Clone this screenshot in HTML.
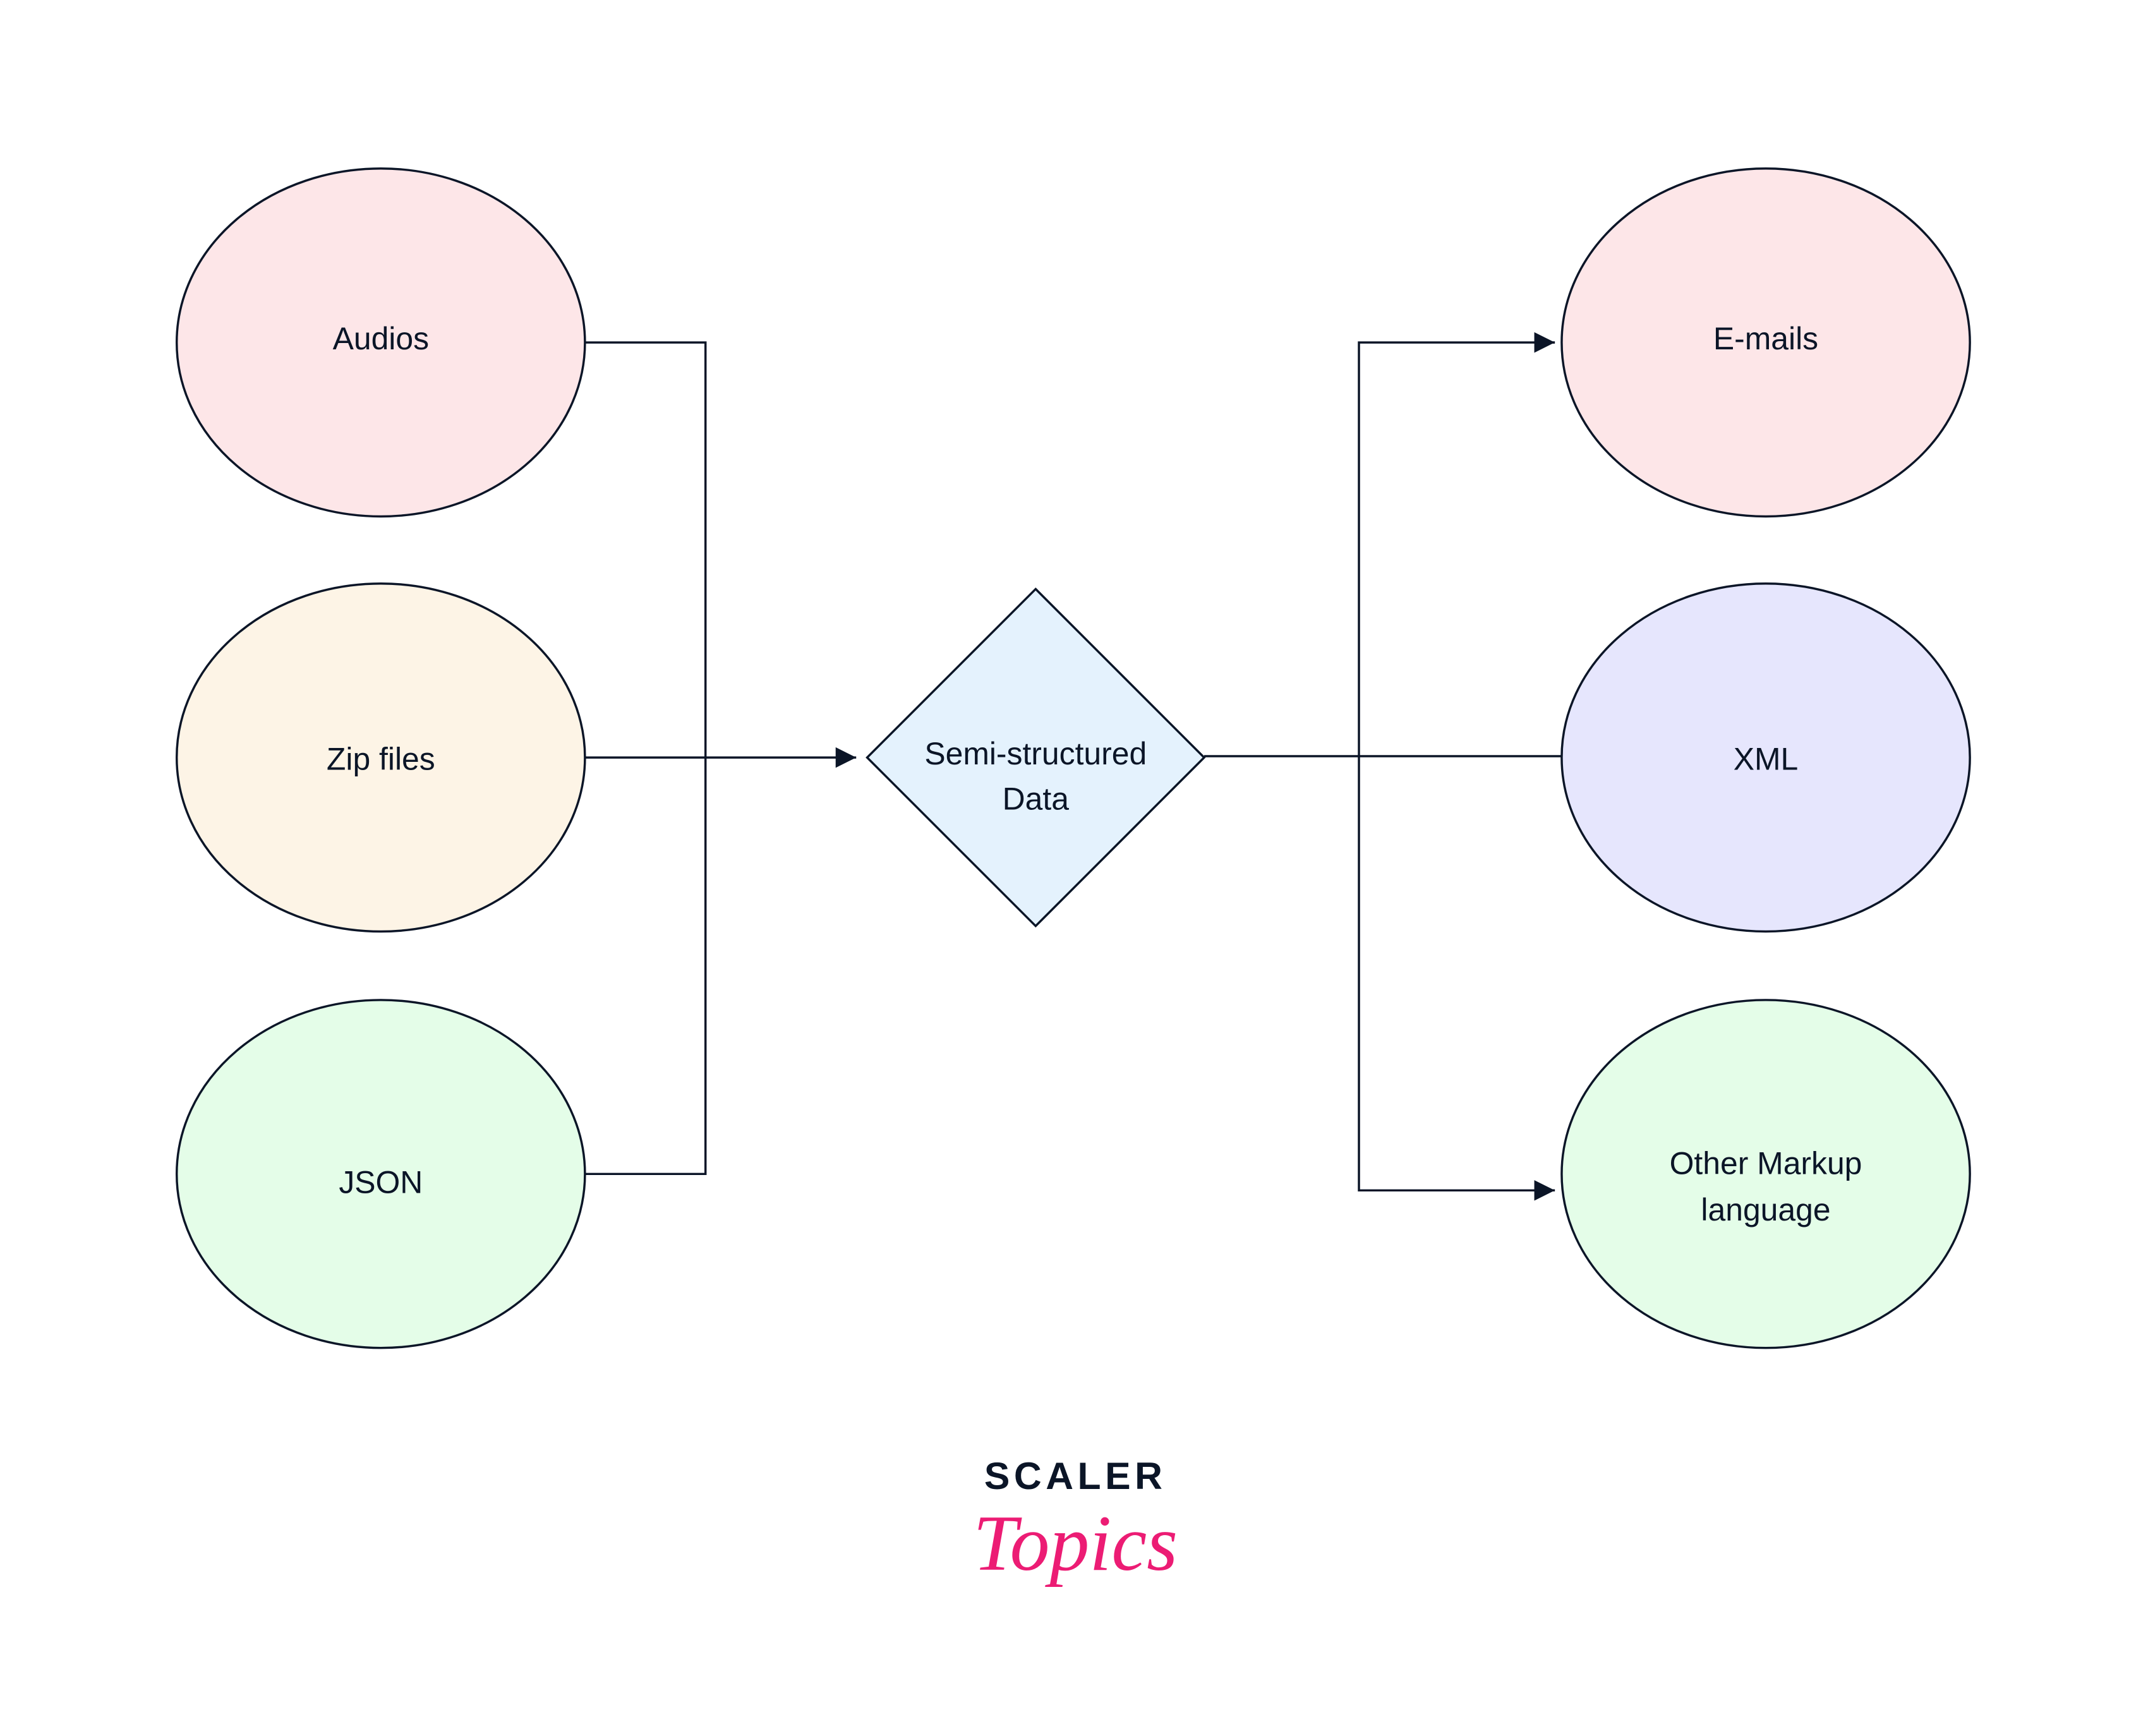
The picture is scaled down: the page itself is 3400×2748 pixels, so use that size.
<!DOCTYPE html>
<html><head><meta charset="utf-8"><style>
html,body{margin:0;padding:0;background:#fff;width:3400px;height:2748px;overflow:hidden}
text{font-family:"Liberation Sans",sans-serif;fill:#0b1527}
</style></head><body>
<svg width="3400" height="2748" viewBox="0 0 1568 1267.3" xmlns="http://www.w3.org/2000/svg">
<defs><marker id="a" viewBox="0 0 10 10" refX="10" refY="5" markerWidth="7" markerHeight="7" markerUnits="userSpaceOnUse" orient="auto"><path d="M0,0L10,5L0,10z" fill="#0b1527"/></marker>
<marker id="b" viewBox="0 0 10 10" refX="10" refY="5" markerWidth="15" markerHeight="15" markerUnits="userSpaceOnUse" orient="auto"><path d="M0,0L10,5L0,10z" fill="#0b1527"/></marker></defs>
<g stroke="#0b1527" stroke-width="1.6" fill="none">
<path d="M427,250H515V857H427"/>
<path d="M427,553H625" marker-end="url(#b)"/>
<path d="M879,552H1140"/>
<path d="M1135,250H992V869H1135" />
<path d="M1120,250H1135" marker-end="url(#b)"/>
<path d="M1120,869H1135" marker-end="url(#b)"/>
</g>
<g stroke="#0b1527" stroke-width="1.6">
<ellipse cx="278" cy="250" rx="149" ry="127" fill="#fde6e8"/>
<ellipse cx="278" cy="553" rx="149" ry="127" fill="#fdf4e6"/>
<ellipse cx="278" cy="857" rx="149" ry="127" fill="#e4fde8"/>
<ellipse cx="1289" cy="250" rx="149" ry="127" fill="#fde6e8"/>
<ellipse cx="1289" cy="553" rx="149" ry="127" fill="#e6e6fd"/>
<ellipse cx="1289" cy="857" rx="149" ry="127" fill="#e4fde8"/>
<path d="M756,430L879,553L756,676L633,553Z" fill="#e4f2fd"/>
</g>
<g font-size="23" text-anchor="middle">
<text x="278" y="255">Audios</text>
<text x="278" y="562">Zip files</text>
<text x="278" y="871">JSON</text>
<text x="1289" y="255">E-mails</text>
<text x="1289" y="562">XML</text>
<text x="1289" y="857">Other Markup</text>
<text x="1289" y="891">language</text>
<text x="756" y="558">Semi-structured</text>
<text x="756" y="591">Data</text>
</g>
<text x="785" y="1087" font-size="28" font-weight="bold" text-anchor="middle" letter-spacing="3" style="fill:#0b1527">SCALER</text>
<text x="785" y="1146" font-size="58" font-style="italic" text-anchor="middle" style="fill:#ec1c74;font-family:'Liberation Serif',serif">Topics</text>
</svg>
</body></html>
